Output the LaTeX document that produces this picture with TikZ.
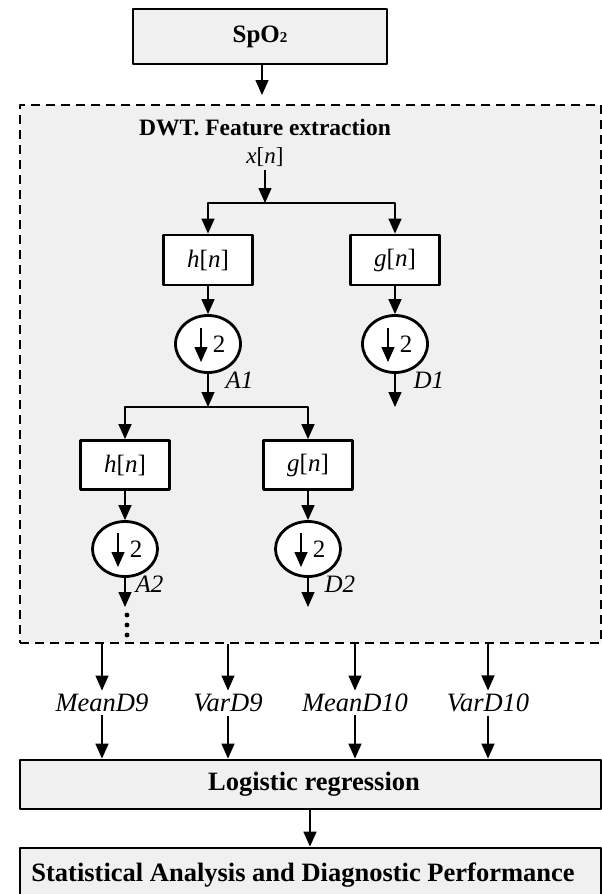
\documentclass[tikz,border=0pt]{standalone}
\usepackage{fontspec}
\setmainfont{Liberation Serif}
\usetikzlibrary{arrows.meta,shapes.geometric}
\definecolor{panel}{HTML}{F0F0F0}
\begin{document}
\begin{tikzpicture}[
  x=1pt, y=-1pt,
  box/.style={draw, line width=2.8pt, fill=panel, inner sep=0pt,
    font=\bfseries\fontsize{26.5}{30}\selectfont},
  filt/.style={draw, line width=2.8pt, fill=white, minimum width=89pt,
    minimum height=50pt, font=\fontsize{25}{28}\selectfont},
  down/.style={draw, ellipse, line width=2.8pt, fill=white, inner sep=0pt,
    minimum width=65pt, minimum height=57pt},
  lbl/.style={font=\itshape\fontsize{26.5}{30}\selectfont},
  arr/.style={line width=1.4pt, -{Triangle[length=15pt,width=13pt]}},
  line join=round]
\useasboundingbox (0,0) rectangle (602,894);
\clip (0,0) rectangle (602,894);
\node [box, minimum width=254pt, minimum height=55pt,
  font=\bfseries\fontsize{25}{28}\selectfont] (spo) at (260,36.5)
  {SpO{\fontsize{15}{15}\selectfont 2}};
\node [box, dashed, dash pattern=on 9pt off 6pt, minimum width=581pt,
  minimum height=538pt] (dwt) at (310.5,374) {};
\coordinate (dwtin) at (262,95);
\draw [arr] (spo.south -| dwtin) -- (dwtin);
\node [font=\bfseries\fontsize{23.5}{26}\selectfont] (title) at (265,128)
  {DWT. Feature extraction};
\node [font=\fontsize{23}{26}\selectfont] (xn) at (265,157) {\textit{x}[\textit{n}]};
% level 1
\coordinate (br1) at (265,203);
\node [filt] (h1) at (208,260) {\textit{h}[\textit{n}]};
\node [filt] (g1) at (395,260) {\textit{g}[\textit{n}]};
\node [down] (e1) at (208,344) {};
\node [down] (e2) at (395,344) {};
\coordinate (br2) at (208,407);
\coordinate (d1) at (395,407);
% level 2
\node [filt, minimum height=49pt] (h2) at (125,465) {\textit{h}[\textit{n}]};
\node [filt, minimum height=49pt] (g2) at (308,465) {\textit{g}[\textit{n}]};
\node [down, minimum height=55pt] (e3) at (125,549) {};
\node [down, minimum height=55pt] (e4) at (308,549) {};
\coordinate (a2) at (125,607);
\coordinate (d2) at (308,607);
\draw [arr] (xn) -- (br1);
\draw [arr] (br1) -| (h1.north);
\draw [arr] (br1) -| (g1.north);
\draw [arr] (br2) -| (h2.north);
\draw [arr] (br2) -| (g2.north);
\foreach \f/\e/\o in {h1/e1/br2, g1/e2/d1, h2/e3/a2, g2/e4/d2}{
  \draw [arr] (\f) -- (\e);
  \draw [arr] (\e) -- (\o);
  \node [font=\fontsize{25}{28}\selectfont] (\e two) at ([xshift=11pt]\e.center) {2};
  \draw [arr] ([xshift=-7pt,yshift=16pt]\e.center) -- ++(0,34);
}
\node [lbl, anchor=west, font=\itshape\fontsize{25}{28}\selectfont] (la1) at (222,380) {A1};
\node [lbl, anchor=west, font=\itshape\fontsize{25}{28}\selectfont] (ld1) at (410,380) {D1};
\node [lbl, anchor=west, font=\itshape\fontsize{25}{28}\selectfont] (la2) at (132,584) {A2};
\node [lbl, anchor=west, font=\itshape\fontsize{25}{28}\selectfont] (ld2) at (321,584) {D2};
\foreach \y in {615,625,635}
  \fill (127,\y) circle (2.4pt);
% features
\node [box, minimum width=581pt, minimum height=49pt] (lr) at (310.5,784.5) {};
\node [font=\bfseries\fontsize{26.5}{30}\selectfont] (lrt) at (314,784.5)
  {Logistic regression};
\node [box, minimum width=581pt, minimum height=56pt] (sadp) at (310.5,876) {};
\node [font=\bfseries\fontsize{26.5}{30}\selectfont] (sadpt) at (303,875)
  {Statistical Analysis and Diagnostic Performance};
\foreach \f/\x in {MeanD9/102, VarD9/228, MeanD10/355, VarD10/488}{
  \node [lbl] (\f) at (\x,703) {\f};
  \draw [arr] (\f |- dwt.south) -- (\f);
  \draw [arr] (\f) -- (\f |- lr.north);
}
\draw [arr] (lr.south -| 310,0) -- (sadp.north -| 310,0);
\end{tikzpicture}
\end{document}
